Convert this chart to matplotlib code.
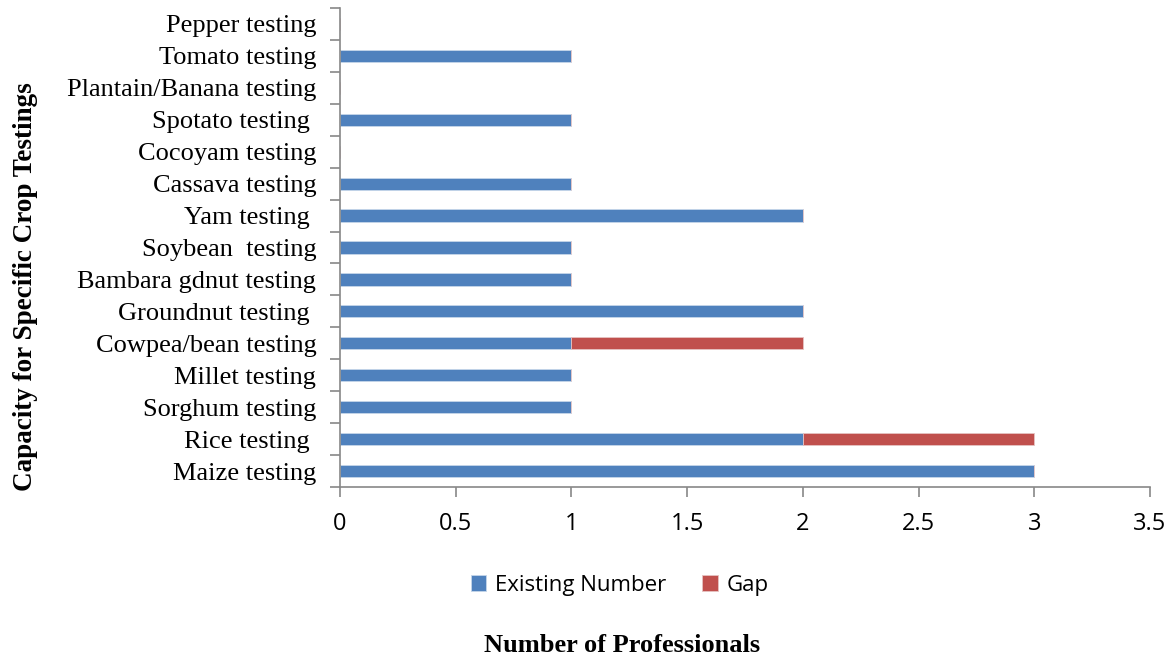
import numpy as np
import matplotlib.pyplot as plt

# Crops listed from bottom to top of the chart
crops = ["Maize testing", "Rice testing ", "Sorghum testing", "Millet testing",
         "Cowpea/bean testing", "Groundnut testing ", "Bambara gdnut testing",
         "Soybean  testing", "Yam testing ", "Cassava testing", "Cocoyam testing",
         "Spotato testing ", "Plantain/Banana testing", "Tomato testing", "Pepper testing"]
existing = [3, 2, 1, 1, 1, 2, 1, 1, 2, 1, 0, 1, 0, 1, 0]
gap = [0, 1, 0, 0, 1, 0, 0, 0, 0, 0, 0, 0, 0, 0, 0]

blue = "#4F81BD"
red = "#C0504D"
axis_grey = "#888888"

fig = plt.figure(figsize=(11.76, 6.6), dpi=100)
ax = fig.add_axes([0.2891, 0.2621, 0.6888, 0.7258])

y = np.arange(len(crops))
ax.barh(y, existing, height=0.38, color=blue, edgecolor="#c6d6ea", linewidth=0.6,
        label="Existing Number")
ax.barh(y, gap, left=existing, height=0.38, color=red, edgecolor="#e6c3c2",
        linewidth=0.6, label="Gap")

ax.set_xlim(0, 3.5)
ax.set_ylim(-0.5, len(crops) - 0.5)
ax.set_xticks(np.arange(0, 3.51, 0.5))
ax.set_xticklabels(["0", "0.5", "1", "1.5", "2", "2.5", "3", "3.5"],
                   family="Open Sans", fontsize=17)
ax.set_yticks(y)
ax.set_yticklabels(crops, family="Liberation Serif", fontsize=19)
ax.set_yticks(np.arange(-0.5, len(crops), 1), minor=True)

ax.tick_params(axis="y", which="major", length=0, pad=17)
ax.tick_params(axis="y", which="minor", length=7, color=axis_grey, width=1.2)
ax.tick_params(axis="x", length=7, color=axis_grey, width=1.2, pad=11)

for side in ["top", "right"]:
    ax.spines[side].set_visible(False)
for side in ["left", "bottom"]:
    ax.spines[side].set_color(axis_grey)
    ax.spines[side].set_linewidth(1.2)

fig.text(0.022, 0.565, "Capacity for Specific Crop Testings", rotation=90,
         ha="center", va="center", family="Liberation Serif", fontsize=19.5,
         fontweight="bold")
fig.text(0.529, 0.022, "Number of Professionals", ha="center", va="center",
         family="Liberation Serif", fontsize=19, fontweight="bold")

fig.legend(loc="center", bbox_to_anchor=(0.527, 0.113), ncol=2, frameon=False,
           prop={"family": "Open Sans", "size": 16}, handlelength=0.7,
           handleheight=0.7, handletextpad=0.4, columnspacing=1.6)

fig.savefig("out.png", dpi=100)
